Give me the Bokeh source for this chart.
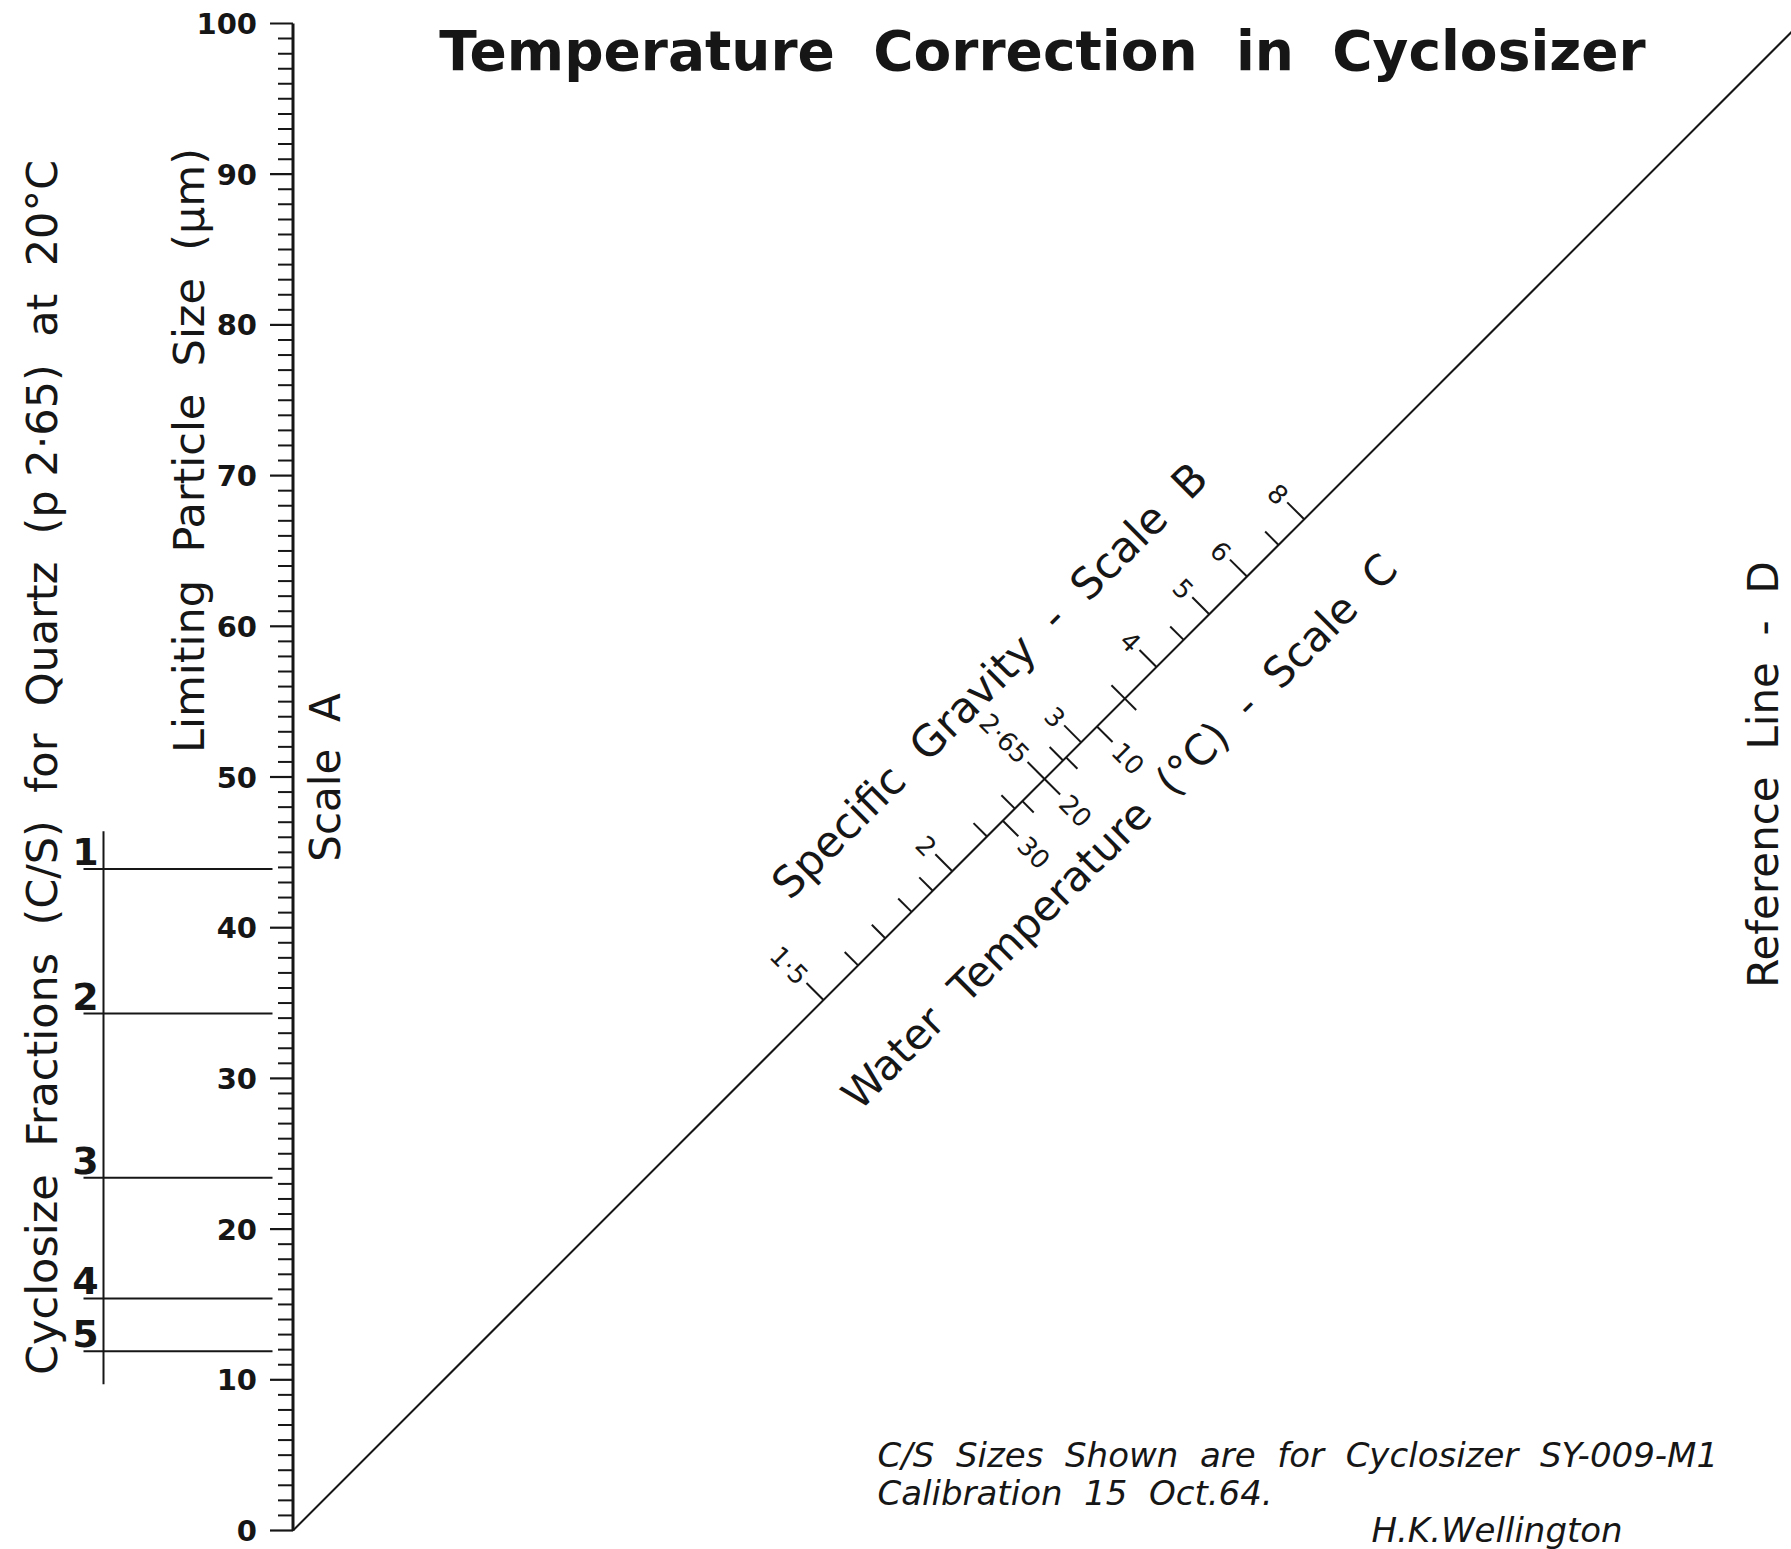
import math
from bokeh.plotting import figure
from bokeh.models import Range1d
from bokeh.core.properties import value
from bokeh.embed import file_html
from bokeh.resources import INLINE

# ---------------- data ----------------
# Scale A : limiting particle size (µm)
scale_a_major = [0, 10, 20, 30, 40, 50, 60, 70, 80, 90, 100]
scale_a_labels = ["0", "10", "20", "30", "40", "50", "60", "70", "80", "90", "100"]
scale_a_minor = [v for v in range(0, 101) if v % 10 != 0]

# Cyclosize fractions (C/S) for quartz at 20 °C, sizes on scale A (µm)
cs_labels = ["1", "2", "3", "4", "5"]
cs_sizes = [43.9, 34.3, 23.4, 15.4, 11.9]
cs_bar_range = [9.7, 46.4]

# Scale B : specific gravity, position along the diagonal (in scale-A units)
sg_values = [1.5, 1.6, 1.7, 1.8, 1.9, 2.0, 2.2, 2.4, 2.65, 2.8, 3.0, 3.5, 4.0, 4.5, 5.0, 6.0, 7.0, 8.0]
sg_pos = [35.2, 37.5, 39.3, 41.05, 42.45, 43.75, 46.05, 47.9, 49.87, 51.1, 52.3, 55.2, 57.3, 59.1, 60.8, 63.3, 65.4, 67.1]
sg_labels = ["1·5", "", "", "", "", "2", "", "", "2·65", "", "3", "", "4", "", "5", "6", "", "8"]

# Scale C : water temperature (°C), position along the diagonal
temp_values = [5, 10, 15, 20, 25, 30]
temp_pos = [55.2, 53.35, 51.3, 49.87, 48.4, 47.1]
temp_labels = ["", "10", "", "20", "", "30"]

diag_ends = [0, 102]

INK = "#161616"
FONT = value("DejaVu Sans")
W, H = 1791, 1549
PX = 15.07      # screen pixels per data unit (both axes)
AXIS_X = 292.5  # pixel column of scale A
ZERO_Y = 1530   # pixel row of scale value 0


def wide(s):
    # keep the drawing's wide word gaps (plain double spaces collapse in SVG)
    return s.replace("  ", " \u00a0")


def px_x(X):
    return (X - AXIS_X) / PX


def px_v(Y):
    return (ZERO_Y - Y) / PX


p = figure(width=W, height=H,
           x_range=Range1d(px_x(0), px_x(W)),
           y_range=Range1d(px_v(H), px_v(0)),
           x_axis_type=None, y_axis_type=None,
           output_backend="svg", toolbar_location=None, min_border=0)
p.grid.visible = False
p.outline_line_color = None
p.background_fill_color = "white"
p.border_fill_color = "white"

# ---------------- Scale A ----------------
p.segment(x0=[0], y0=[0], x1=[0], y1=[100], line_color=INK, line_width=3)
maj_len = 23 / PX
min_len = 15 / PX
p.segment(x0=[-maj_len] * len(scale_a_major), y0=scale_a_major,
          x1=[0] * len(scale_a_major), y1=scale_a_major, line_color=INK, line_width=2.2)
p.segment(x0=[-min_len] * len(scale_a_minor), y0=scale_a_minor,
          x1=[0] * len(scale_a_minor), y1=scale_a_minor, line_color=INK, line_width=2)
p.text(x=[-36 / PX] * len(scale_a_major), y=scale_a_major, text=scale_a_labels,
       text_align="right", text_baseline="middle", text_font=FONT,
       text_font_size="29px", text_font_style="bold", text_color=INK)

# ---------------- Cyclosize fraction lines ----------------
p.segment(x0=[px_x(103)], y0=[cs_bar_range[0]], x1=[px_x(103)], y1=[cs_bar_range[1]],
          line_color=INK, line_width=2)
p.segment(x0=[px_x(83)] * len(cs_sizes), y0=cs_sizes, x1=[px_x(272)] * len(cs_sizes), y1=cs_sizes,
          line_color=INK, line_width=2)
p.text(x=[px_x(85)] * len(cs_sizes), y=[s + 4 / PX for s in cs_sizes], text=cs_labels,
       text_align="center", text_baseline="bottom", text_font=FONT,
       text_font_size="38px", text_font_style="bold", text_color=INK)

# ---------------- Diagonal with scales B and C ----------------
p.line(x=diag_ends, y=diag_ends, line_color=INK, line_width=2)
r2 = 1 / math.sqrt(2)
b_len = [(24 if lab else 19) / PX for lab in sg_labels]
p.segment(x0=sg_pos, y0=sg_pos,
          x1=[s - L * r2 for s, L in zip(sg_pos, b_len)],
          y1=[s + L * r2 for s, L in zip(sg_pos, b_len)],
          line_color=INK, line_width=2)
c_len = [(22 if lab else 16) / PX for lab in temp_labels]
p.segment(x0=temp_pos, y0=temp_pos,
          x1=[t + L * r2 for t, L in zip(temp_pos, c_len)],
          y1=[t - L * r2 for t, L in zip(temp_pos, c_len)],
          line_color=INK, line_width=2)
gap = 28 / PX * r2
p.text(x=[s - gap for s in sg_pos], y=[s + gap for s in sg_pos], text=sg_labels,
       angle=-math.pi / 4, text_align="right", text_baseline="middle", text_font=FONT,
       text_font_size="26px", text_color=INK)
p.text(x=[t + gap for t in temp_pos], y=[t - gap for t in temp_pos], text=temp_labels,
       angle=-math.pi / 4, text_align="left", text_baseline="middle", text_font=FONT,
       text_font_size="26px", text_color=INK)


# ---------------- Titles and labels ----------------
def label(X, Y, txt, angle=0.0, size="42px", style="normal", align="center", baseline="middle"):
    p.text(x=[px_x(X)], y=[px_v(Y)], text=[wide(txt)], angle=angle, text_align=align,
           text_baseline=baseline, text_font=FONT, text_font_size=size,
           text_font_style=style, text_color=INK)


label(1042, 50, "Temperature  Correction  in  Cyclosizer", size="55px", style="bold",
      baseline="alphabetic")
label(41.5, 767, "Cyclosize  Fractions  (C/S)  for  Quartz  (p 2·65)  at  20°C",
      angle=math.pi / 2, size="43px")
label(188, 450, "Limiting  Particle  Size  (µm)", angle=math.pi / 2, size="43px")
label(325, 777, "Scale  A", angle=math.pi / 2)
label(1763, 774, "Reference  Line  -  D", angle=math.pi / 2)
label(989, 680, "Specific  Gravity  -  Scale  B", angle=math.pi / 4, size="43px")
label(1119, 831, "Water  Temperature  (°C)  -  Scale  C", angle=math.pi / 4)

label(877, 1454, "C/S  Sizes  Shown  are  for  Cyclosizer  SY-009-M1", size="34px",
      style="italic", align="left", baseline="alphabetic")
label(877, 1492, "Calibration  15  Oct.64.", size="34px", style="italic", align="left",
      baseline="alphabetic")
label(1371, 1529, "H.K.Wellington", size="34px", style="italic", align="left",
      baseline="alphabetic")

open("out.html", "w").write(file_html(p, INLINE))
